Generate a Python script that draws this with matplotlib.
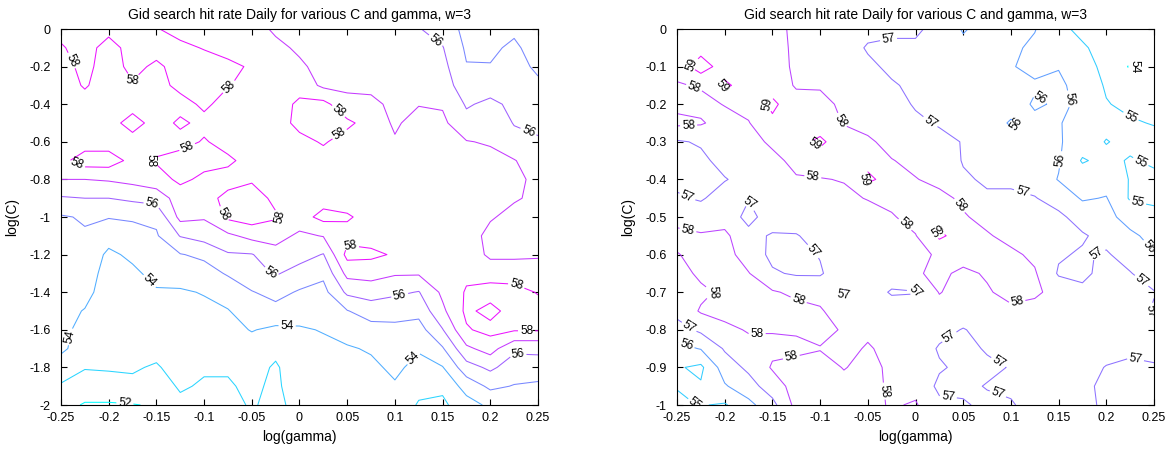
import numpy as np
import matplotlib
matplotlib.use("Agg")
import matplotlib.pyplot as plt
from matplotlib.colors import Normalize
from matplotlib.ticker import FuncFormatter

plt.rcParams["font.family"] = ["Liberation Sans", "DejaVu Sans"]

gamma = np.linspace(-0.25, 0.25, 21)
logc_left = np.linspace(0, -2, 21)
logc_right = np.linspace(0, -1, 21)

# daily hit rate (%), one list per gamma value, log(C) from 0 downwards
rate_left = [
    [58.3, 57.9, 57.6, 57.5, 57.5, 57.5, 57.5, 57.7, 57.0, 55.9, 54.9, 54.8, 54.6, 54.5, 54.4, 54.3, 54.25, 54.2, 53.5, 52.9, 52.4],
    [58.3, 58.4, 58.3, 58.1, 57.6, 57.5, 57.5, 58.5, 57.0, 56.0, 55.1, 54.9, 54.7, 54.5, 54.3, 53.95, 53.7, 53.5, 53.05, 52.6, 51.9],
    [58.3, 57.6, 57.5, 57.5, 57.5, 57.5, 57.5, 58.5, 57.1, 56.0, 55.05, 54.4, 53.8, 53.6, 53.5, 53.4, 53.3, 53.2, 53.1, 52.6, 51.9],
    [58.3, 58.4, 58.3, 57.9, 57.5, 58.5, 57.5, 57.7, 57.3, 56.2, 55.1, 54.7, 54.2, 53.8, 53.6, 53.5, 53.4, 53.3, 53.1, 52.8, 51.95],
    [58.05, 58.4, 57.8, 57.6, 57.5, 57.5, 57.6, 58.1, 57.6, 56.4, 55.2, 54.9, 54.6, 54.3, 53.9, 53.8, 53.6, 53.3, 52.9, 52.6, 52.1],
    [57.7, 58.2, 58.4, 58.3, 57.6, 58.2, 57.6, 58.5, 58.2, 57.5, 57.3, 56.05, 54.95, 54.4, 53.9, 53.7, 53.6, 53.5, 53.4, 53.1, 52.8],
    [57.5, 57.95, 58.4, 58.4, 58.2, 57.7, 58.1, 58.3, 57.8, 57.6, 57.1, 56.4, 55.2, 54.6, 54.05, 53.8, 53.6, 53.4, 53.1, 52.9, 52.8],
    [57.6, 57.7, 58.2, 58.05, 57.6, 57.5, 57.6, 58.2, 57.6, 58.3, 58.2, 56.8, 55.9, 55.1, 54.4, 53.95, 53.7, 53.3, 53.1, 52.9, 52.7],
    [57.5, 57.6, 57.9, 57.7, 57.5, 57.5, 57.5, 57.6, 57.9, 58.4, 58.5, 57.3, 55.95, 55.6, 54.95, 54.5, 54.05, 53.6, 53.3, 53.2, 53.1],
    [56.8, 57.3, 57.5, 57.6, 57.5, 57.5, 57.5, 57.6, 57.6, 57.8, 58.1, 57.4, 56.6, 56.1, 55.3, 54.7, 53.8, 53.2, 52.9, 52.8, 52.7],
    [56.5, 56.8, 57.2, 57.6, 58.2, 58.3, 57.7, 57.5, 57.6, 57.7, 57.6, 56.8, 56.4, 55.6, 54.9, 54.4, 53.9, 53.6, 53.5, 53.6, 53.4],
    [56.1, 56.4, 56.6, 56.8, 58.3, 58.5, 58.1, 57.6, 57.6, 57.6, 58.3, 57.05, 55.95, 55.2, 54.7, 54.4, 54.05, 53.8, 53.7, 53.7, 53.6],
    [56.3, 56.4, 56.6, 56.8, 57.3, 58.2, 57.6, 57.5, 57.6, 57.6, 58.1, 57.7, 58.3, 57.3, 56.2, 54.95, 54.4, 53.9, 53.6, 53.5, 53.4],
    [56.2, 56.4, 56.6, 56.8, 57.2, 57.6, 57.6, 57.5, 57.6, 57.8, 57.7, 57.6, 58.2, 57.4, 56.4, 55.5, 54.6, 54.1, 53.8, 53.6, 53.5],
    [56.1, 56.3, 56.5, 56.6, 56.8, 56.85, 57.1, 57.5, 57.6, 57.8, 57.9, 57.8, 57.9, 57.1, 56.2, 55.3, 54.8, 54.4, 54.2, 53.9, 53.7],
    [56.05, 56.3, 56.5, 56.8, 56.95, 57.4, 57.5, 57.6, 57.6, 57.6, 57.5, 57.5, 57.4, 57.1, 55.95, 55.3, 54.6, 54.1, 53.7, 53.3, 52.9],
    [55.6, 56.05, 56.3, 56.6, 56.9, 57.2, 57.4, 57.5, 57.5, 57.5, 57.5, 57.5, 57.4, 57.3, 57.2, 56.8, 55.95, 54.9, 53.95, 53.2, 52.8],
    [54.7, 54.85, 55.05, 55.3, 55.9, 56.3, 57.05, 57.4, 57.5, 57.5, 57.5, 57.5, 57.6, 57.8, 58.1, 58.2, 57.9, 56.8, 55.6, 54.4, 53.6],
    [54.6, 54.8, 55.05, 55.6, 56.2, 56.6, 56.9, 57.3, 57.3, 57.3, 57.1, 56.7, 56.8, 57.6, 58.4, 57.7, 58.3, 57.4, 56.2, 55.2, 54.2],
    [54.8, 55.2, 55.4, 55.6, 55.8, 55.95, 56.3, 57.05, 57.3, 57.1, 56.7, 56.6, 56.8, 57.6, 58.3, 58.4, 58.1, 56.2, 55.5, 54.95, 54.2],
    [54.3, 54.5, 54.8, 55.2, 55.6, 55.8, 56.1, 56.5, 56.7, 56.8, 56.8, 56.8, 56.9, 57.4, 57.95, 58.3, 58.1, 56.2, 55.6, 54.8, 54.1],
]

rate_right = [
    [58.4, 58.6, 58.4, 57.9, 57.8, 58.2, 56.9, 56.7, 56.8, 57.1, 57.6, 58.3, 57.95, 57.6, 57.5, 57.3, 56.6, 55.7, 55.1, 55.05, 54.8],
    [58.5, 58.6, 59.5, 58.1, 57.7, 58.1, 57.1, 56.8, 56.8, 56.9, 57.5, 58.1, 58.3, 58.2, 57.8, 58.1, 57.2, 56.05, 54.8, 55.1, 55.05],
    [58.3, 58.4, 58.5, 59.2, 58.05, 57.6, 57.4, 57.3, 56.95, 57.4, 57.6, 58.2, 58.4, 58.5, 58.2, 58.4, 57.7, 57.1, 56.5, 55.9, 54.9],
    [58.5, 58.6, 58.4, 58.5, 58.3, 57.95, 57.6, 57.5, 57.3, 57.05, 56.7, 57.3, 57.5, 58.05, 58.4, 58.5, 58.1, 57.6, 57.2, 56.6, 55.7],
    [58.3, 58.4, 58.5, 58.6, 59.2, 58.8, 58.2, 57.7, 57.5, 57.5, 57.5, 56.9, 56.8, 57.1, 58.1, 58.3, 58.05, 57.8, 58.1, 57.5, 56.7],
    [57.8, 57.8, 57.8, 57.9, 58.4, 58.5, 58.7, 58.3, 57.9, 57.5, 57.4, 56.95, 56.7, 56.9, 57.8, 58.3, 58.1, 57.8, 58.3, 58.4, 58.3],
    [57.7, 57.6, 57.7, 57.9, 58.3, 58.5, 59.2, 58.5, 57.95, 57.6, 57.5, 57.3, 57.05, 56.9, 57.7, 58.1, 58.3, 57.95, 58.4, 58.3, 58.1],
    [57.6, 57.5, 57.6, 57.7, 57.8, 57.95, 58.4, 58.4, 58.05, 57.8, 57.5, 57.5, 57.6, 57.6, 56.9, 57.5, 57.9, 57.7, 57.95, 58.3, 58.4],
    [57.3, 56.9, 57.2, 57.4, 57.6, 57.6, 58.2, 58.7, 59.2, 58.05, 57.6, 57.5, 57.5, 57.6, 57.5, 57.6, 57.8, 58.1, 58.3, 58.2, 58.3],
    [57.2, 56.8, 56.8, 57.1, 57.4, 57.6, 57.6, 58.05, 58.6, 58.3, 57.9, 57.8, 57.7, 57.5, 56.9, 57.5, 57.6, 57.7, 57.8, 57.9, 57.9],
    [57.1, 56.9, 56.7, 56.8, 56.9, 57.2, 57.5, 57.7, 58.05, 58.4, 58.4, 57.95, 57.8, 57.9, 56.95, 57.5, 57.6, 57.6, 57.5, 57.7, 58.1],
    [56.8, 56.6, 56.5, 56.6, 56.7, 56.9, 57.3, 57.5, 57.7, 58.3, 58.5, 59.2, 58.1, 58.2, 58.05, 57.6, 57.3, 56.9, 57.1, 56.8, 57.2],
    [55.9, 56.3, 56.5, 56.6, 56.7, 56.8, 56.95, 56.95, 57.1, 57.8, 58.1, 58.5, 58.4, 57.8, 57.6, 57.5, 56.95, 56.7, 56.8, 56.8, 57.1],
    [56.4, 56.5, 56.6, 56.6, 56.7, 56.5, 56.7, 56.8, 56.9, 57.1, 57.7, 58.1, 58.3, 58.1, 57.9, 57.6, 57.3, 57.1, 56.8, 57.05, 56.8],
    [56.3, 56.2, 56.05, 56.2, 56.4, 55.9, 56.4, 56.7, 56.9, 57.1, 57.4, 57.7, 58.2, 58.3, 58.3, 57.8, 57.5, 57.3, 57.05, 57.2, 56.9],
    [56.05, 55.8, 55.8, 56.1, 55.9, 56.2, 56.4, 56.5, 56.6, 57.05, 57.3, 57.5, 57.8, 58.1, 58.2, 57.6, 57.5, 57.4, 57.4, 57.4, 57.4],
    [55.2, 55.7, 55.95, 56.2, 56.1, 56.05, 56.1, 56.1, 55.95, 56.6, 57.2, 57.5, 57.1, 56.9, 57.6, 57.5, 57.6, 57.5, 57.4, 57.4, 57.5],
    [54.8, 55.1, 55.3, 55.6, 55.9, 55.7, 55.5, 54.9, 55.6, 55.9, 56.6, 57.1, 56.9, 56.8, 57.2, 57.5, 57.6, 57.5, 57.4, 57.2, 57.3],
    [54.5, 54.7, 54.8, 54.9, 55.05, 55.3, 54.95, 55.3, 55.6, 56.05, 56.3, 56.7, 57.1, 57.3, 57.5, 57.6, 57.6, 57.4, 56.95, 56.8, 56.8],
    [54.3, 54.5, 53.9, 54.5, 54.8, 55.1, 55.3, 54.9, 54.95, 54.9, 55.6, 56.2, 56.6, 57.05, 57.4, 57.5, 57.5, 57.2, 56.8, 56.6, 56.6],
    [54.1, 54.3, 54.4, 54.6, 54.8, 54.95, 55.3, 55.2, 54.7, 54.8, 55.3, 55.7, 56.05, 56.5, 57.05, 56.9, 57.2, 57.3, 56.9, 56.7, 56.6],
]

levels_left = [52, 53, 54, 55, 56, 57, 58]
levels_right = [54, 55, 56, 57, 58, 59]

# where the contour labels sit (gamma, log C)
labels_left = [(-0.244, -0.18), (-0.18, -0.32), (-0.07, -0.34), (0.037, -0.46), (0.046, -0.59),
               (0.139, -0.085), (0.238, -0.57), (-0.235, -0.74), (-0.16, -0.71), (-0.115, -0.66),
               (-0.155, -0.95), (-0.089, -1.0), (-0.013, -1.0), (0.053, -1.17), (-0.031, -1.31),
               (0.105, -1.415), (-0.159, -1.35), (-0.238, -1.64), (-0.013, -1.59), (0.123, -1.77),
               (-0.183, -1.99), (0.226, -1.38), (0.238, -1.56), (0.229, -1.71)]
labels_right = [(-0.234, -0.096), (-0.231, -0.149), (-0.203, -0.154), (-0.238, -0.247), (-0.156, -0.197),
                (-0.238, -0.441), (-0.168, -0.455), (-0.108, -0.40), (-0.105, -0.304), (-0.081, -0.247),
                (-0.058, -0.397), (-0.025, -0.069), (0.013, -0.255), (0.043, -0.476),
                (-0.013, -0.526), (0.024, -0.54), (0.106, -0.25), (0.127, -0.193), (0.165, -0.184),
                (0.227, -0.224), (0.232, -0.096), (0.112, -0.433), (0.153, -0.348), (0.237, -0.348),
                (0.233, -0.46), (0.24, -0.59), (0.191, -0.60), (0.235, -0.676), (0.24, -0.753),
                (0.23, -0.886), (0.107, -0.734), (0.005, -0.68), (0.033, -0.81), (0.085, -0.894),
                (0.036, -0.947), (0.085, -0.98), (-0.13, -0.875), (-0.04, -0.965),
                (-0.072, -0.74), (-0.108, -0.593), (-0.124, -0.734), (-0.166, -0.827), (-0.195, -0.703),
                (-0.24, -0.553), (-0.238, -0.795), (-0.238, -0.822), (-0.226, -0.981)]

title = "Gid search hit rate Daily for various C and gamma, w=3"


def tick_fmt(v, pos):
    s = "%g" % round(v, 3)
    return "0" if s == "-0" else s


def draw(ax, logc, rate, levels, label_levels, label_xy, yticks):
    z = np.array(rate).T
    norm = Normalize(z.min(), z.max())
    cmap = plt.get_cmap("cool")
    plain = [lv for lv in levels if lv not in label_levels]
    if plain:
        ax.contour(gamma, logc, z, levels=plain,
                   colors=[cmap(norm(lv)) for lv in plain], linewidths=0.75)
    cs = ax.contour(gamma, logc, z, levels=label_levels,
                    colors=[cmap(norm(lv)) for lv in label_levels], linewidths=0.75)
    ax.clabel(cs, manual=label_xy, inline=True, inline_spacing=2,
              fmt="%d", fontsize=8.5, colors="k")
    ax.set_xlim(-0.25, 0.25)
    ax.set_ylim(logc[-1], 0)
    ax.set_xticks(np.arange(-0.25, 0.26, 0.05))
    ax.set_yticks(yticks)
    ax.xaxis.set_major_formatter(FuncFormatter(tick_fmt))
    ax.yaxis.set_major_formatter(FuncFormatter(tick_fmt))
    ax.tick_params(direction="in", top=True, right=True, length=4,
                   width=0.8, labelsize=9)
    ax.tick_params(axis="x", pad=5)
    ax.tick_params(axis="y", pad=7.5)
    for sp in ax.spines.values():
        sp.set_linewidth(0.8)
    ax.set_title(title, fontsize=10, pad=7)
    ax.set_xlabel("log(gamma)", fontsize=10, labelpad=4)
    ax.set_ylabel("log(C)", fontsize=10, labelpad=7)


fig = plt.figure(figsize=(11.72, 4.5), dpi=100)
ax1 = fig.add_axes([61 / 1172, 45 / 450, 477 / 1172, 376 / 450])
ax2 = fig.add_axes([677 / 1172, 45 / 450, 477 / 1172, 376 / 450])

draw(ax1, logc_left, rate_left, levels_left, [52, 54, 56, 58], labels_left,
     np.arange(-2, 0.01, 0.2))
draw(ax2, logc_right, rate_right, levels_right, levels_right, labels_right,
     np.arange(-1, 0.01, 0.1))

fig.savefig("out.png", dpi=100)
